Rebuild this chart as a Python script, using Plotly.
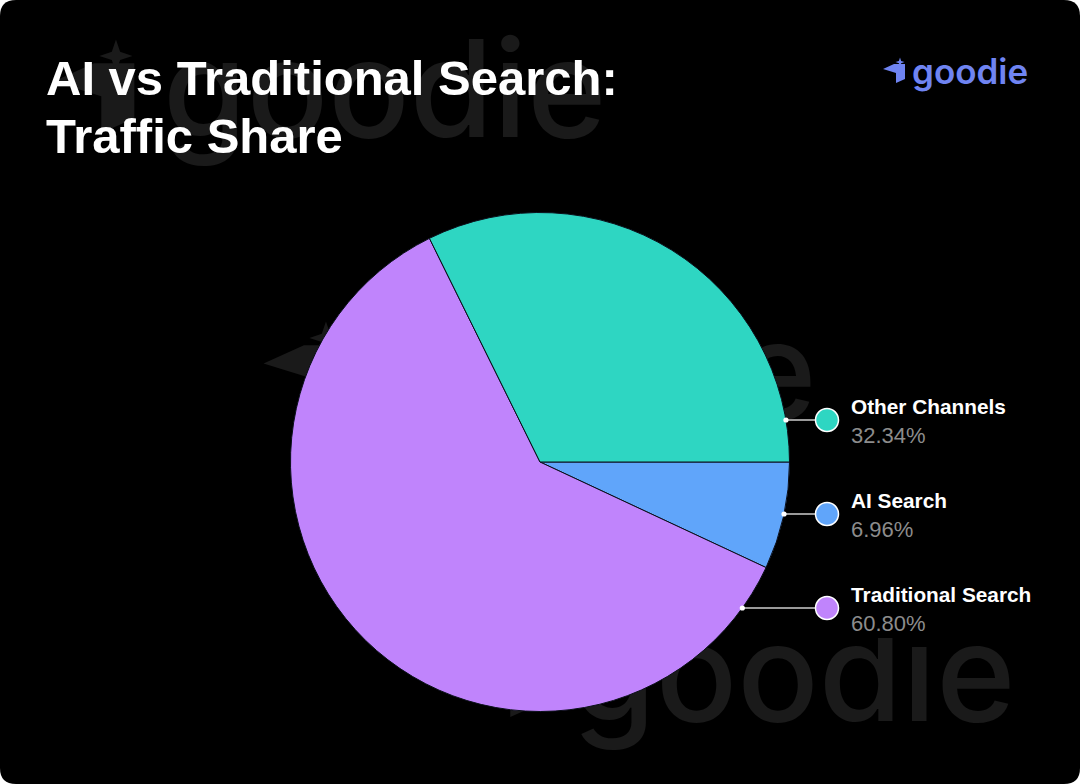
import math
import plotly.graph_objects as go

# ---------------- data ----------------
labels = ["AI Search", "Traditional Search", "Other Channels"]
values = [6.96, 60.80, 32.34]
colors = ["#60A5FA", "#C084FC", "#2ED6C2"]
legend_order = ["Other Channels", "AI Search", "Traditional Search"]
title_lines = ["AI vs Traditional Search:", "Traffic Share"]
brand = "goodie"

# ---------------- layout helpers ----------------
W, H = 1080, 784
def X(px):
    return px / W
def Y(py):
    return 1 - py / H

CX, CY, R = 540, 462, 249.5
BRAND = "#6F84F2"
WM = "#1a1a1a"

shapes = []
annotations = []

# black rounded card
r = 16
rx, ry = r / W, r / H
card = (f"M {rx},0 L {1-rx},0 Q 1,0 1,{ry} L 1,{1-ry} Q 1,1 {1-rx},1 "
        f"L {rx},1 Q 0,1 0,{1-ry} L 0,{ry} Q 0,0 {rx},0 Z")
shapes.append(dict(type="path", xref="paper", yref="paper", path=card,
                   fillcolor="#000000", line=dict(width=0), layer="below"))

# brand icon (relative to text start / baseline at logo scale)
icon_body = [(-29, -14), (-18, -19), (-7, -19), (-7, -4), (-16, 0), (-16, -10)]
def icon_paths(gx, base, s, color, layer):
    pts = [(gx + dx * s, base + dy * s) for dx, dy in icon_body]
    p = "M " + " L ".join(f"{X(a)},{Y(b)}" for a, b in pts) + " Z"
    out = [dict(type="path", xref="paper", yref="paper", path=p,
                fillcolor=color, line=dict(width=0), layer=layer)]
    # sparkle
    sx, sy, sr = gx - 12 * s, base - 21 * s, 4.5 * s
    k = 0.25 * sr
    sp = [(sx, sy - sr), (sx + k, sy - k), (sx + sr, sy), (sx + k, sy + k),
          (sx, sy + sr), (sx - k, sy + k), (sx - sr, sy), (sx - k, sy - k)]
    p2 = "M " + " L ".join(f"{X(a)},{Y(b)}" for a, b in sp) + " Z"
    out.append(dict(type="path", xref="paper", yref="paper", path=p2,
                    fillcolor=color, line=dict(width=0), layer=layer))
    return out

# watermarks (text start x, baseline y)
wm_pos = [(160, 133), (370, 415), (569, 717)]
WM_SIZE = 135
for gx, base in wm_pos:
    shapes += icon_paths(gx, base, 3.67, WM, "below")
    cyc = base - 49
    shapes.append(dict(type="rect", xref="paper", yref="paper",
                       x0=X(gx - 3), x1=X(gx + 470), y0=Y(cyc + 90), y1=Y(cyc - 90),
                       line=dict(width=0), fillcolor="rgba(0,0,0,0)", layer="below",
                       label=dict(text=brand, textposition="middle left",
                                  font=dict(family="Inter", size=WM_SIZE, color=WM, weight=500))))

# mask behind the label block
shapes.append(dict(type="rect", xref="paper", yref="paper",
                   x0=X(812), x1=X(1045), y0=Y(638), y1=Y(392),
                   fillcolor="#000000", line=dict(width=0), layer="below"))

# ---------------- pie ----------------
fig = go.Figure(go.Pie(
    labels=labels, values=values, sort=False, direction="clockwise", rotation=90,
    marker=dict(colors=colors, line=dict(color="#0b0f1a", width=1)),
    textinfo="none", hoverinfo="label+percent", showlegend=False,
    domain=dict(x=[X(CX - R), X(CX + R)], y=[Y(CY + R), Y(CY - R)]),
))

# ---------------- custom legend with leader lines ----------------
row_y = [420, 514, 608]
circle_x, circle_r = 827, 11.5
text_x = 849
for name, yy in zip(legend_order, row_y):
    i = labels.index(name)
    ex = CX + math.sqrt(R * R - (yy - CY) ** 2)
    shapes.append(dict(type="line", xref="paper", yref="paper",
                       x0=X(ex), x1=X(circle_x - circle_r), y0=Y(yy), y1=Y(yy),
                       line=dict(color="#9a9a9a", width=2), layer="above"))
    shapes.append(dict(type="circle", xref="paper", yref="paper",
                       x0=X(ex - 2.6), x1=X(ex + 2.6), y0=Y(yy + 2.6), y1=Y(yy - 2.6),
                       fillcolor="#ffffff", line=dict(width=0), layer="above"))
    shapes.append(dict(type="circle", xref="paper", yref="paper",
                       x0=X(circle_x - circle_r), x1=X(circle_x + circle_r),
                       y0=Y(yy + circle_r), y1=Y(yy - circle_r),
                       fillcolor=colors[i], line=dict(color="#ffffff", width=1.5),
                       layer="above"))
    annotations.append(dict(xref="paper", yref="paper", x=X(text_x), y=Y(yy - 13.5),
                            xanchor="left", yanchor="middle", showarrow=False,
                            text=f"<b>{name}</b>",
                            font=dict(family="Liberation Sans", size=20.8, color="#ffffff")))
    annotations.append(dict(xref="paper", yref="paper", x=X(text_x), y=Y(yy + 15.5),
                            xanchor="left", yanchor="middle", showarrow=False,
                            text=f"{values[i]:.2f}%",
                            font=dict(family="Liberation Sans", size=22, color="#8c8c8c")))

# ---------------- title ----------------
for txt, yy in zip(title_lines, [78, 135.5]):
    annotations.append(dict(xref="paper", yref="paper", x=X(44), y=Y(yy),
                            xanchor="left", yanchor="middle", showarrow=False,
                            text=f"<b>{txt}</b>",
                            font=dict(family="Liberation Sans", size=49, color="#ffffff")))

# ---------------- brand logo ----------------
LOGO_X, LOGO_BASE = 912, 83
shapes += icon_paths(LOGO_X, LOGO_BASE, 1.0, BRAND, "above")
annotations.append(dict(xref="paper", yref="paper", x=X(LOGO_X - 2), y=Y(71),
                        xanchor="left", yanchor="middle", showarrow=False,
                        text=brand,
                        font=dict(family="Inter", size=35, color=BRAND, weight=600)))

fig.update_layout(
    width=W, height=H, margin=dict(l=0, r=0, t=0, b=0),
    paper_bgcolor="#ffffff", plot_bgcolor="#ffffff",
    shapes=shapes, annotations=annotations, showlegend=False,
)
fig.write_html("out.html", config={"displayModeBar": False},
               post_script="document.body.style.margin='0';document.body.style.overflow='hidden';")
